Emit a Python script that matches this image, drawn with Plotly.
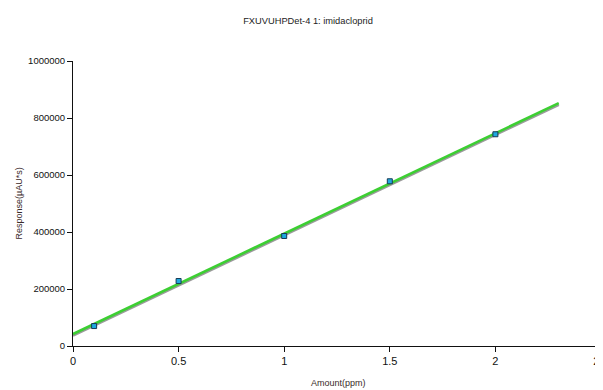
import plotly.graph_objects as go

# Calibration standards
amount_ppm = [0.1, 0.5, 1.0, 1.5, 2.0]
response = [70000, 228000, 386000, 578000, 743000]

# Fitted calibration line endpoints (amount, response)
fit_amount = [0.0, 2.3]
fit_response = [42000, 852000]

title_text = "FXUVUHPDet-4 1: imidacloprid"
x_title = "Amount(ppm)"
y_title = "Response(µAU*s)"
x_ticks = [0, 0.5, 1, 1.5, 2, 2.5]
x_ticktext = ["0", "0.5", "1", "1.5", "2", "2.5"]
y_ticks = [0, 200000, 400000, 600000, 800000, 1000000]
y_ticktext = ["0", "200000", "400000", "600000", "800000", "1000000"]

# The page body adds an 8px offset; layout values below are in figure coords.
W, H = 603, 390
OFF = 8
ML, MR, MT, MB = 73 - OFF, W - (601 - OFF), 61 - OFF, H - (346 - OFF)
PW, PH = W - ML - MR, H - MT - MB
y_per_px = 1000000 / PH
shadow_offset = [v - 1.6 * y_per_px for v in fit_response]

fig = go.Figure()
fig.add_trace(go.Scatter(x=fit_amount, y=shadow_offset, mode="lines",
                         line=dict(color="rgba(120,120,120,0.75)", width=2.5),
                         hoverinfo="skip", showlegend=False))
fig.add_trace(go.Scatter(x=fit_amount, y=fit_response, mode="lines",
                         line=dict(color="#3ccf32", width=2.6),
                         showlegend=False))
fig.add_trace(go.Scatter(x=amount_ppm, y=response, mode="markers",
                         marker=dict(symbol="square", size=5, color="#1fa8e0",
                                     line=dict(color="#173a55", width=1)),
                         showlegend=False))

font = "Liberation Sans, Arial, sans-serif"
fig.update_layout(
    width=W, height=H,
    margin=dict(l=ML, r=MR, t=MT, b=MB, autoexpand=False),
    plot_bgcolor="white", paper_bgcolor="white",
    font=dict(family=font, size=10, color="#222"),
    title=dict(text=title_text, x=(308 - OFF) / W, xref="container", xanchor="center",
               y=1 - (21 - OFF) / H, yref="container", yanchor="middle",
               font=dict(size=9.3, color="#222")),
    xaxis=dict(range=[0, 2.5], tickvals=x_ticks, ticktext=x_ticktext, automargin=False,
               showgrid=False, zeroline=False, showline=True, linecolor="#111", linewidth=1,
               ticks="outside", ticklen=5, tickcolor="#111",
               tickfont=dict(size=11, color="#111")),
    yaxis=dict(range=[0, 1000000], tickvals=y_ticks, ticktext=y_ticktext, automargin=False,
               showgrid=False, zeroline=False, showline=True, linecolor="#111", linewidth=1,
               ticks="outside", ticklen=5, tickcolor="#111",
               tickfont=dict(size=9.5, color="#111")),
    annotations=[
        dict(text=x_title, xref="paper", yref="paper",
             x=(338 - OFF - ML) / PW, y=-(383 - OFF - (H - MB)) / PH,
             xanchor="center", yanchor="middle", showarrow=False,
             font=dict(size=9, color="#3a2a2a")),
        dict(text=y_title, xref="paper", yref="paper",
             x=-(ML - (18 - OFF)) / PW, y=0.5, textangle=-90,
             xanchor="center", yanchor="middle", showarrow=False,
             font=dict(size=9, color="#3a2a2a")),
    ],
)

fig.write_html("out.html")
